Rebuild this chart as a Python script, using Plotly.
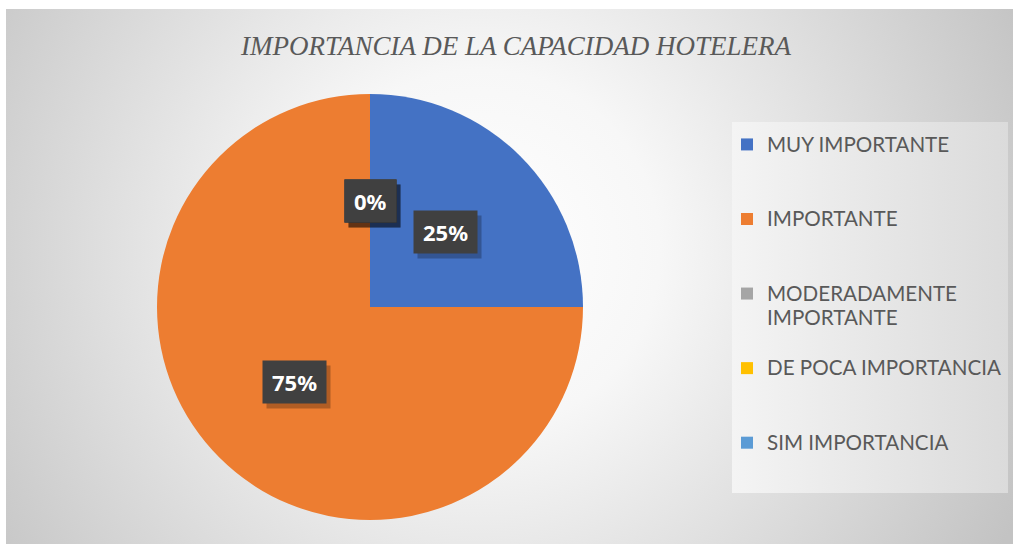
import math
import base64
import plotly.graph_objects as go


####################################################
# DADOS
####################################################

categorias = [
    "MUY IMPORTANTE",
    "IMPORTANTE",
    "MODERADAMENTE IMPORTANTE",
    "DE POCA IMPORTANCIA",
    "SIM IMPORTANCIA"
]

# texto da legenda (quebra de linha como no original)
legenda = [
    "MUY IMPORTANTE",
    "IMPORTANTE",
    "MODERADAMENTE<br>IMPORTANTE",
    "DE POCA IMPORTANCIA",
    "SIM IMPORTANCIA"
]

valores = [25, 75, 0, 0, 0]

cores = ["#4472C4", "#ED7D31", "#A5A5A5", "#FFC000", "#5B9BD5"]

titulo = "IMPORTANCIA DE LA CAPACIDAD HOTELERA"


####################################################
# LAYOUT
####################################################

W, H = 1013, 544

# dominio da pizza em pixels
px0, px1 = 157, 583
py0, py1 = 94, 520

dom_x = [px0 / W, px1 / W]
dom_y = [1 - py1 / H, 1 - py0 / H]

# fundo com gradiente (svg embutido)
svg = f"""<svg xmlns='http://www.w3.org/2000/svg' width='{W}' height='{H}'>
<defs>
<radialGradient id='g' gradientUnits='userSpaceOnUse' cx='480' cy='250' r='600'>
<stop offset='0' stop-color='#ffffff'/>
<stop offset='0.3' stop-color='#f7f7f7'/>
<stop offset='1' stop-color='#c3c3c3'/>
</radialGradient>
<linearGradient id='l' x1='0' y1='0' x2='1' y2='0'>
<stop offset='0' stop-color='#f4f4f4'/>
<stop offset='1' stop-color='#dbdbdb'/>
</linearGradient>
</defs>
<rect x='0' y='0' width='{W}' height='{H}' fill='#ffffff'/>
<rect x='6' y='9' width='{W - 6}' height='{H - 9}' fill='url(#g)'/>
<rect x='732' y='122' width='276' height='371' fill='url(#l)'/>
</svg>"""

fundo = "data:image/svg+xml;base64," + base64.b64encode(svg.encode()).decode()

# cada item ocupa 3 linhas para espaçar a legenda como no original
labels_leg = []
for t in legenda:
    linhas = t.split("<br>")
    linhas = ["<span style='font-size:20.6px'>" + l + "</span>" for l in linhas]
    linhas += [" "] * (3 - len(linhas))
    labels_leg.append("<br>".join(linhas))

fig = go.Figure()

fig.add_trace(go.Pie(
    labels=labels_leg,
    values=valores,
    customdata=categorias,
    sort=False,
    direction="clockwise",
    rotation=0,
    textinfo="none",
    hovertemplate="%{customdata}: %{percent}<extra></extra>",
    marker=dict(colors=cores, line=dict(width=0)),
    domain=dict(x=dom_x, y=dom_y),
    showlegend=True
))

# rótulos de dados (caixas escuras) em 0.5 do raio
r_px = min(px1 - px0, py1 - py0) / 2
cx = (dom_x[0] + dom_x[1]) / 2
cy = (dom_y[0] + dom_y[1]) / 2
total = sum(valores)
acum = 0
anotacoes = []
for v in valores:
    meio = (acum + v / 2) / total * 2 * math.pi
    acum += v
    ax = cx + 0.5 * r_px * math.sin(meio) / W
    ay = cy + 0.5 * r_px * math.cos(meio) / H
    txt = f"{round(v / total * 100)}%"
    base = dict(
        x=ax, y=ay, xref="paper", yref="paper",
        showarrow=False, height=24, borderpad=9,
        xanchor="center", yanchor="middle"
    )
    anotacoes.append(dict(
        base, text=f"<b>{txt}</b>", bgcolor="rgba(0,0,0,0.25)",
        font=dict(color="rgba(0,0,0,0)", size=22, family="Noto Sans"),
        xshift=4, yshift=-5
    ))
    anotacoes.append(dict(
        base, text=f"<b>{txt}</b>", bgcolor="#404040",
        font=dict(color="white", size=22, family="Noto Sans")
    ))

fig.update_layout(
    width=W,
    height=H,
    margin=dict(l=0, r=0, t=0, b=0, autoexpand=False),
    paper_bgcolor="white",
    images=[dict(
        source=fundo, xref="paper", yref="paper",
        x=0, y=1, sizex=1, sizey=1, sizing="stretch",
        xanchor="left", yanchor="top", layer="below"
    )],
    title=dict(
        text=titulo,
        x=516 / W,
        xanchor="center",
        y=1 - 46 / H,
        yanchor="middle",
        font=dict(family="Liberation Serif", size=27, color="#595959", style="italic")
    ),
    legend=dict(
        x=727 / W,
        xanchor="left",
        y=1 - 126 / H,
        yanchor="top",
        valign="top",
        bgcolor="rgba(0,0,0,0)",
        font=dict(family="Lato", size=18.35, color="#595959")
    ),
    annotations=anotacoes
)

fig.write_html(
    "out.html",
    config={"displayModeBar": False},
    post_script="document.body.style.margin='0';"
)
